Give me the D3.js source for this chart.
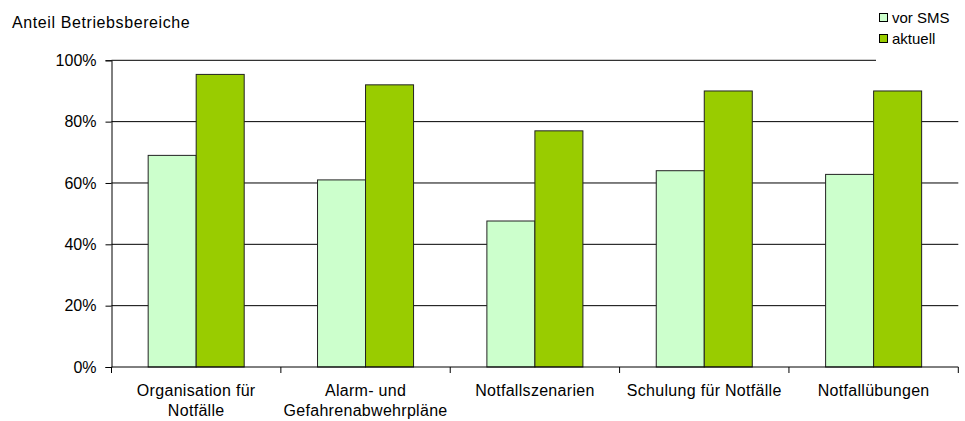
<!DOCTYPE html>
<html><head><meta charset="utf-8">
<script src="https://cdn.jsdelivr.net/npm/d3@7/dist/d3.min.js"></script>
<style>body{margin:0;background:#fff;} text{font-family:"Liberation Sans",Arial,sans-serif;fill:#000;}</style>
</head><body>
<svg id="c" width="965" height="421"></svg>
<script>
const categories = [["Organisation für","Notfälle"],["Alarm- und","Gefahrenabwehrpläne"],["Notfallszenarien"],["Schulung für Notfälle"],["Notfallübungen"]];
const seriesNames = ["vor SMS","aktuell"];
const vorSMS = [69, 61, 47.6, 64, 62.8];
const aktuell = [95.4, 92, 77, 90, 90];
const yTicks = [0,20,40,60,80,100];
const yTitle = "Anteil Betriebsbereiche";
const colors = ["#CCFFCC","#99CC00"];

const svg = d3.select("#c");
const L = 111.5, R = 958.3, T = 60.3, B = 367;
const keys = categories.map((c,i)=>i);
const x = d3.scaleBand().domain(keys).range([L,R]).paddingInner(0.433).paddingOuter(0.2165);
const xs = d3.scaleBand().domain([0,1]).range([0,x.bandwidth()]);
const y = d3.scaleLinear().domain([0,100]).range([B,T]);
const fs = 16;

// gridlines
svg.append("g").selectAll("line").data(yTicks.filter(d=>d>0)).join("line")
  .attr("x1",L).attr("x2",R).attr("y1",d=>y(d)).attr("y2",d=>y(d))
  .attr("stroke","#000").attr("stroke-width",1);

// bars
const data = [vorSMS, aktuell];
data.forEach((vals,s)=>{
  svg.append("g").selectAll("rect").data(vals).join("rect")
    .attr("x",(d,i)=>x(i)+xs(s)).attr("width",xs.bandwidth())
    .attr("y",d=>y(d)).attr("height",d=>B-y(d))
    .attr("fill",colors[s]).attr("stroke","#222").attr("stroke-width",1);
});

// y axis
const ya = svg.append("g").attr("transform",`translate(${L},0)`)
  .call(d3.axisLeft(y).tickValues(yTicks).tickFormat(d=>d+"%").tickSize(6).tickPadding(9));
ya.select(".domain").attr("stroke","#000");
ya.selectAll(".tick line").attr("stroke","#000");
ya.selectAll("text").attr("font-size",fs).attr("font-family","Liberation Sans, Arial, sans-serif").attr("fill","#000");

// x axis
const bounds = keys.map(i=>x(i)-x.step()*x.paddingInner()/2).concat([R]);
const xg = svg.append("g");
xg.append("line").attr("x1",L).attr("x2",R).attr("y1",B).attr("y2",B).attr("stroke","#000");
xg.selectAll("line.t").data(bounds).join("line").attr("class","t")
  .attr("x1",d=>d).attr("x2",d=>d).attr("y1",B).attr("y2",B+6).attr("stroke","#000");
categories.forEach((lines,i)=>{
  const t = xg.append("text").attr("text-anchor","middle").attr("font-size",fs)
    .attr("letter-spacing",0.3).attr("x",x(i)+x.bandwidth()/2).attr("y",396);
  lines.forEach((ln,j)=>t.append("tspan").attr("x",x(i)+x.bandwidth()/2).attr("dy",j?20:0).text(ln));
});

// y title
svg.append("text").attr("x",12).attr("y",28).attr("font-size",fs).attr("letter-spacing",0.6).text(yTitle);

// legend
const lg = svg.append("g");
lg.append("rect").attr("x",876).attr("y",0).attr("width",89).attr("height",61.5).attr("fill","#fff");
seriesNames.forEach((n,i)=>{
  lg.append("rect").attr("x",879.5).attr("y",13.5+i*21).attr("width",8).attr("height",8)
    .attr("fill",colors[i]).attr("stroke","#000");
  lg.append("text").attr("x",892).attr("y",22.5+i*21).attr("font-size",15).text(n);
});
</script>
</body></html>
